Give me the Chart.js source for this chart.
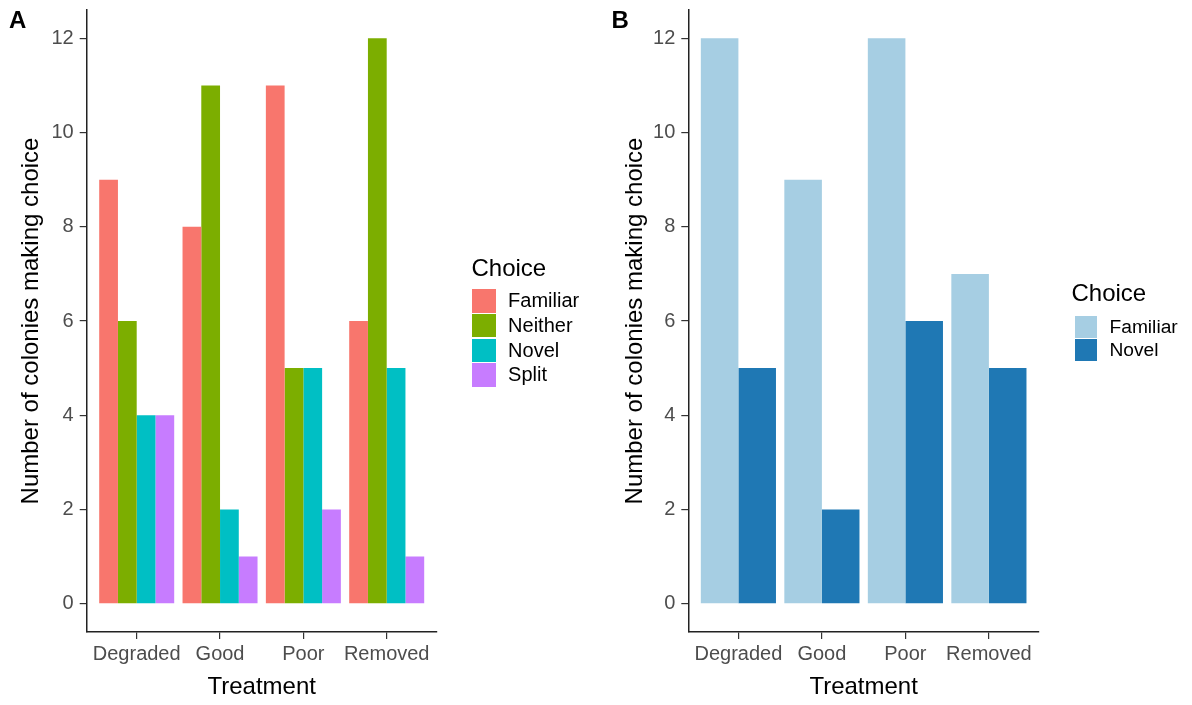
<!DOCTYPE html>
<html>
<head>
<meta charset="utf-8">
<script src="https://cdn.jsdelivr.net/npm/chart.js@4.4.0/dist/chart.umd.min.js"></script>
<style>
  body { margin: 0; background: #fff; font-family: 'Liberation Sans', Arial, sans-serif; }
  #wrap { position: relative; width: 1192px; height: 705px; overflow: hidden; background: #fff; }
  canvas { position: absolute; top: 0; }
  .tag { position: absolute; top: 8px; font-weight: bold; font-size: 24px; line-height: 24px; color: #000; }
  .ttl { position: absolute; font-size: 24px; line-height: 28px; white-space: nowrap; color: #000; }
  .row { position: absolute; display: flex; align-items: center; white-space: nowrap; color: #000; }
  .key { flex: none; }
</style>
</head>
<body>
<div id="wrap">
  <canvas id="chartA" width="596" height="705" style="left:0"></canvas>
  <canvas id="chartB" width="596" height="705" style="left:596px"></canvas>
  <div class="tag" style="left:9px">A</div>
  <div class="tag" style="left:611.5px">B</div>
</div>
<script>
// treatments on the x axis
const treatments = ['Degraded', 'Good', 'Poor', 'Removed'];
const yTicks = [0, 2, 4, 6, 8, 10, 12];

// panel A - all choices
const choicesA = ['Familiar', 'Neither', 'Novel', 'Split'];
const familiarA = [9, 8, 11, 6];
const neitherA = [6, 11, 5, 12];
const novelA = [4, 2, 5, 5];
const splitA = [4, 1, 2, 1];
const coloursA = ['#F8766D', '#7CAE00', '#00BFC4', '#C77CFF'];

// panel B - familiar vs novel only
const choicesB = ['Familiar', 'Novel'];
const familiarB = [12, 9, 12, 7];
const novelB = [5, 2, 6, 5];
const coloursB = ['#A6CEE3', '#1F78B4'];

const family = "'Liberation Sans', Arial, sans-serif";
Chart.defaults.font.family = family;

function toPoints(values) {
	return values.map((v, i) => ({ x: i + 1, y: v }));
}

function makeDatasets(labels, series, colours) {
	return labels.map((lab, i) => ({
		label: lab,
		data: toPoints(series[i]),
		backgroundColor: colours[i],
		borderWidth: 0,
		barPercentage: 1,
		categoryPercentage: 0.9
	}));
}

function makePanel(id, datasets, g) {
	const ctx = document.getElementById(id).getContext('2d');
	return new Chart(ctx, {
		type: 'bar',
		data: { datasets: datasets },
		options: {
			responsive: false,
			animation: false,
			layout: { padding: { left: 0, top: 10, right: 596 - g.right, bottom: 0 } },
			plugins: { legend: { display: false }, tooltip: { enabled: false } },
			scales: {
				x: {
					type: 'linear',
					min: 0.4,
					max: 4.6,
					offset: false,
					afterBuildTicks: s => { s.ticks = treatments.map((t, i) => ({ value: i + 1 })); },
					afterFit: s => { s.height = 73; s.paddingLeft = 0; s.paddingRight = 0; },
					ticks: {
						callback: v => treatments[v - 1],
						font: { size: 20 },
						color: '#4D4D4D',
						padding: 3,
						maxRotation: 0,
						autoSkip: false
					},
					grid: { display: true, drawOnChartArea: false, drawTicks: true, tickLength: 7, color: '#333', lineWidth: 1.2, offset: false },
					border: { display: true, color: '#222', width: 1.5 },
					title: { display: true, text: 'Treatment', font: { size: 24 }, color: '#000', padding: { top: 0, bottom: 3 } }
				},
				y: {
					min: -0.6,
					max: 12.6,
					afterBuildTicks: s => { s.ticks = yTicks.map(v => ({ value: v })); },
					afterFit: s => { s.width = g.left; s.paddingTop = 0; s.paddingBottom = 0; },
					ticks: { font: { size: 20 }, color: '#4D4D4D', padding: 6 },
					grid: { display: true, drawOnChartArea: false, drawTicks: true, tickLength: 7, color: '#333', lineWidth: 1.2 },
					border: { display: true, color: '#222', width: 1.5 },
					title: { display: true, text: 'Number of colonies making choice', font: { size: 24 }, color: '#000', padding: { top: g.titlePad, bottom: 0 } }
				}
			}
		}
	});
}

// html legend, built from the same labels/colours
function makeLegend(labels, colours, L) {
	const wrap = document.getElementById('wrap');
	const t = document.createElement('div');
	t.className = 'ttl';
	t.textContent = 'Choice';
	t.style.left = L.titleX + 'px';
	t.style.top = L.titleY + 'px';
	wrap.appendChild(t);
	labels.forEach((lab, i) => {
		const r = document.createElement('div');
		r.className = 'row';
		r.style.left = L.keyX + 'px';
		r.style.top = (L.keyY + i * L.pitch) + 'px';
		r.style.height = L.key + 'px';
		r.style.fontSize = L.font + 'px';
		const k = document.createElement('div');
		k.className = 'key';
		k.style.width = L.key + 'px';
		k.style.height = L.key + 'px';
		k.style.background = colours[i];
		const s = document.createElement('span');
		s.textContent = lab;
		s.style.marginLeft = L.gap + 'px';
		s.style.lineHeight = L.key + 'px';
		r.appendChild(k);
		r.appendChild(s);
		wrap.appendChild(r);
	});
}

makePanel('chartA', makeDatasets(choicesA, [familiarA, neitherA, novelA, splitA], coloursA),
	{ left: 86.7, right: 436.7, titlePad: 16.8 });
makePanel('chartB', makeDatasets(choicesB, [familiarB, novelB], coloursB),
	{ left: 92.3, right: 443, titlePad: 24.5 });

makeLegend(choicesA, coloursA, { titleX: 471.5, titleY: 254.4, keyX: 472.3, keyY: 289.3, pitch: 24.67, key: 23.3, gap: 12.5, font: 20 });
makeLegend(choicesB, coloursB, { titleX: 1071.5, titleY: 278.5, keyX: 1075, keyY: 316, pitch: 23.3, key: 21.7, gap: 12.8, font: 19.2 });
</script>
</body>
</html>
